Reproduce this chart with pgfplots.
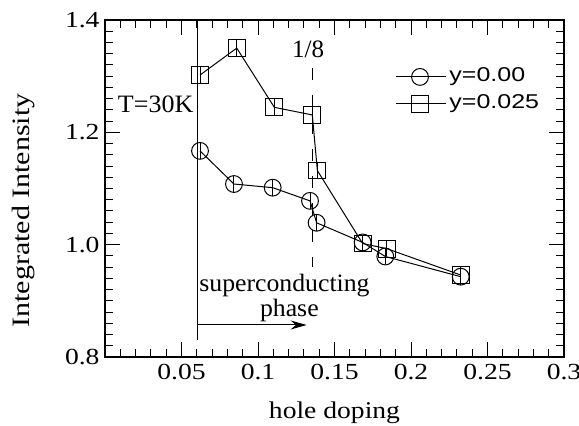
\documentclass[border=0pt]{standalone}
\usepackage{graphicx}
\usepackage{pgfplots}
\pgfplotsset{compat=1.18}
\usetikzlibrary{arrows.meta}
\usepackage{fontspec}
\setmainfont{Liberation Serif}
\newfontfamily\legfont{Liberation Sans}
\begin{document}
\fontsize{12.5}{15}\selectfont
\begin{tikzpicture}
\useasboundingbox (-52.5pt,-34pt) rectangle (237pt,178.5pt);
\begin{axis}[
  scale only axis, width=229.5pt, height=168.5pt,
  xmin=0, xmax=0.3, ymin=0.8, ymax=1.4,
  xtick={0.05,0.1,0.15,0.2,0.25,0.3},
  xticklabels={0.05,0.1,0.15,0.2,0.25,0.3},
  minor xtick={0.01,0.02,0.03,0.04,0.06,0.07,0.08,0.09,0.11,0.12,0.13,0.14,0.16,0.17,0.18,0.19,0.21,0.22,0.23,0.24,0.26,0.27,0.28,0.29},
  ytick={0.8,1.0,1.2,1.4},
  yticklabels={0.8,1.0,1.2,1.4},
  minor y tick num=9,
  tick label style={font=\fontsize{11.5}{13}\selectfont},
  xticklabel style={inner sep=0pt, yshift=-3.5pt, xscale=1.2},
  yticklabel style={inner sep=0pt, xshift=-2.5pt, xscale=1.2},
  tick align=inside,
  major tick length=7.5pt, minor tick length=4pt,
  tick style={black, line width=0.5pt},
  axis line style={line width=0.8pt},
  xlabel={hole doping},
  ylabel={Integrated Intensity},
  xlabel style={at={(rel axis cs:0.5,-0.1306)}, anchor=north, inner sep=0pt,
    font=\fontsize{12}{14}\selectfont, xscale=1.15},
  ylabel style={at={(rel axis cs:-0.1525,0.435)}, anchor=south, inner sep=0pt,
    font=\fontsize{12.5}{15}\selectfont, xscale=1.2},
  legend style={at={(rel axis cs:0.632,0.862)}, anchor=north west, draw=none, fill=none,
    font=\fontsize{10}{12}\legfont, row sep=3.5pt, inner sep=0pt,
    nodes={inner sep=0pt, text height=7.5pt, text depth=2.5pt}},
  legend cell align=left,
  legend image code/.code={\draw[mark repeat=2,mark phase=2,#1] plot coordinates {(0pt,0pt) (12pt,0pt) (25pt,0pt)};},
]
\addplot[black, line width=0.5pt, mark=o, mark size=4.2pt,
  error bars/.cd, y dir=both, y fixed=0.014, error mark=none,
  error bar style={line width=0.5pt}]
  coordinates {(0.0621,1.167) (0.0843,1.108) (0.1096,1.1015) (0.134,1.078) (0.1383,1.039) (0.1684,1.004) (0.1832,0.979) (0.2325,0.943)};
\addlegendentry{\hspace{1.5pt}\scalebox{1.25}[1]{y=0.00}}
\addplot[black, line width=0.5pt, mark=square, mark size=4.2pt,
  error bars/.cd, y dir=both, y fixed=0.014, error mark=none,
  error bar style={line width=0.5pt}]
  coordinates {(0.0621,1.302) (0.0861,1.350) (0.1107,1.2445) (0.1355,1.231) (0.1388,1.132) (0.1684,1.002) (0.1841,0.993) (0.2325,0.946)};
\addlegendentry{\hspace{1.5pt}\scalebox{1.25}[1]{y=0.025}}
\draw[line width=0.5pt] (axis cs:0.0603,1.4) -- (axis cs:0.0603,0.830);
\draw[line width=0.5pt, dash pattern=on 6pt off 7.5pt] (axis cs:0.1357,1.314) -- (axis cs:0.1357,0.960);
\draw[line width=0.5pt, -{Stealth[length=8pt,width=4.5pt]}] (axis cs:0.0603,0.857) -- (axis cs:0.1318,0.857);
\node[xscale=1.04] at (axis cs:0.0331,1.250) {T=30K};
\node at (axis cs:0.1327,1.347) {1/8};
\node[anchor=base, xscale=1.03] at (axis cs:0.1173,0.916) {superconducting};
\node[anchor=base, xscale=1.03] at (axis cs:0.1205,0.872) {phase};
\end{axis}
\end{tikzpicture}
\end{document}
